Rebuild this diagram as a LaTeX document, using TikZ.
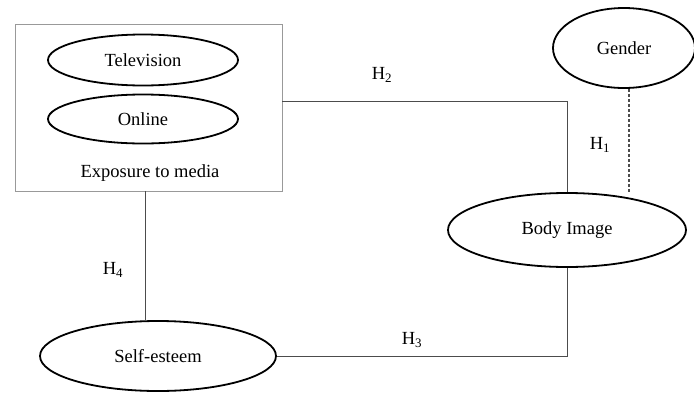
\documentclass[tikz,border=0pt]{standalone}
\usepackage{fontspec}
\setmainfont{Liberation Serif}
\usetikzlibrary{shapes.geometric}

\begin{document}
\begin{tikzpicture}[x=1pt, y=-1pt, font=\fontsize{18.5}{20}\selectfont,
    var/.style = {ellipse, draw, line width=1.8pt, inner sep=0pt},
    group/.style = {draw, gray!80, line width=0.9pt, minimum width=267pt, minimum height=167pt, inner sep=0pt},
    link/.style = {draw, black!70, line width=0.9pt}]

    \useasboundingbox (0, 0) rectangle (694, 394);

    \node at (148.5, 107.5) [group] (media) {};
    \node at (143, 60) [var, minimum width=190pt, minimum height=51pt] (tv) {Television};
    \node at (143, 119) [var, minimum width=190pt, minimum height=49pt] (online) {Online};
    \node at (150, 173) (media_lbl) {Exposure to media};

    \node at (624, 48) [var, minimum width=142pt, minimum height=80pt] (gender) {Gender};
    \node at (567, 230) [var, minimum width=238pt, minimum height=74pt] (body) {Body Image};
    \node at (158, 356) [var, minimum width=236pt, minimum height=70pt] (self) {Self-esteem};

    \draw[link] ([yshift=6.5pt]media.east) -| (body.north);
    \draw[link, line width=1.3pt, dash pattern=on 3pt off 2pt] ([xshift=5pt]gender.south) -- ([xshift=5pt]gender.south |- body.north);
    \draw[link] (body.south) |- (self.east);
    \draw[link] ([xshift=-3.5pt]media.south) -- ([xshift=-3.5pt]media.south |- self.north);

    \node at (382, 75) (h_2) {H\textsubscript{2}};
    \node at (600, 145) (h_1) {H\textsubscript{1}};
    \node at (412, 340) (h_3) {H\textsubscript{3}};
    \node at (113, 270) (h_4) {H\textsubscript{4}};
\end{tikzpicture}
\end{document}
